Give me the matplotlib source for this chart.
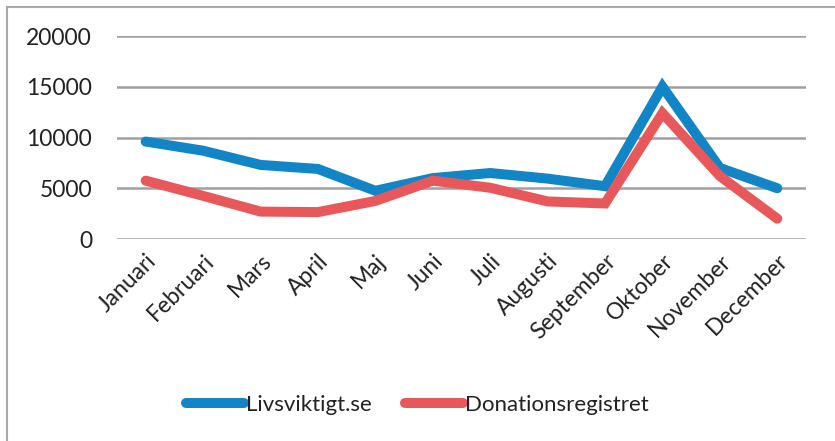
import matplotlib
matplotlib.use("Agg")
import matplotlib.pyplot as plt
from matplotlib.patches import Rectangle

months = ["Januari", "Februari", "Mars", "April", "Maj", "Juni", "Juli",
          "Augusti", "September", "Oktober", "November", "December"]
livsviktigt = [9600, 8700, 7300, 6900, 4750, 6000, 6500, 5950, 5200, 15000, 7000, 5000]
donationsreg = [5750, 4250, 2700, 2650, 3750, 5750, 5050, 3700, 3500, 12400, 6200, 2000]
yticks = [0, 5000, 10000, 15000, 20000]

plt.rcParams['font.family'] = ['Lato', 'DejaVu Sans']

fig = plt.figure(figsize=(8.35, 4.41), dpi=100)
ax = fig.add_axes([117 / 835, 1 - 239 / 441, (806 - 117) / 835, (239 - 36) / 441])

ax.plot(range(len(months)), livsviktigt, color='#1185C6', lw=7.2,
        solid_capstyle='round', solid_joinstyle='miter', label='Livsviktigt.se', zorder=3)
ax.plot(range(len(months)), donationsreg, color='#E8585A', lw=7.2,
        solid_capstyle='round', solid_joinstyle='miter', label='Donationsregistret', zorder=3)

ax.set_xlim(-0.5, len(months) - 0.5)
ax.set_ylim(0, 20000)
ax.set_yticks(yticks)
ax.set_yticklabels([str(v) for v in yticks], fontsize=16.5, color='#222222')
ax.set_xticks(range(len(months)))
ax.set_xticklabels(months, rotation=45, ha='right', rotation_mode='anchor',
                   fontsize=16.5, color='#222222')
ax.tick_params(axis='both', length=0)
ax.tick_params(axis='y', pad=18)
ax.tick_params(axis='x', pad=8)
for s in ax.spines.values():
    s.set_visible(False)
ax.grid(axis='y', color='#A0A0A0', lw=1.8)
ax.set_axisbelow(True)

leg = fig.legend(loc='center', bbox_to_anchor=(0.5, 1 - 405 / 441), ncol=2, frameon=False,
                 fontsize=16, handlelength=2.6, handletextpad=0.1, columnspacing=1.5)
for t in leg.get_texts():
    t.set_color('#222222')

fig.patches.append(Rectangle((7 / 835, -0.1), 1.1, 1 - 7 / 441 + 0.1, transform=fig.transFigure,
                             fill=False, edgecolor='#A8A8A8', lw=1.5))

fig.savefig('out.png', dpi=100)
